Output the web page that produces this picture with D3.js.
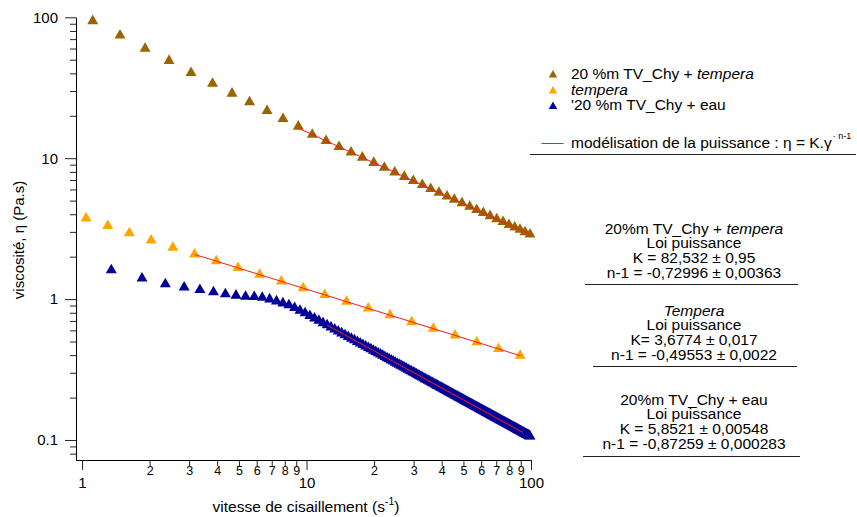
<!DOCTYPE html>
<html><head><meta charset="utf-8">
<script src="https://cdn.jsdelivr.net/npm/d3@7"></script>
<style>
body{margin:0;background:#fff}
text{font-family:"Liberation Sans",Arial,Helvetica,sans-serif;fill:#000}
</style>
</head><body>
<svg id="c" width="857" height="517"></svg>
<script>
// ---------- DATA ----------
const seriesNames = ["20 %m TV_Chy + ", "tempera", "'20 %m TV_Chy + eau"];
const seriesColors = ["#9a6400", "#ffa500", "#000096"];

// 20 %m TV_Chy + tempera
const brownX = [1.116,1.476,1.909,2.441,3.059,3.814,4.658,5.575,6.671,7.859,9.194,10.61,12.22,13.96,15.79,17.73,19.93,22.21,24.71,27.27,29.91,32.80,35.75,38.92,42.26,45.53,49.28,53.33,57.30,61.31,65.68,70.37,75.06,79.80,84.62,89.33,94.04,98.97];
const brownY = [94.2,74.6,60.0,49.2,40.4,33.8,28.8,25.0,21.7,19.0,16.8,14.72,13.28,12.04,11.01,10.12,9.29,8.58,7.94,7.39,6.91,6.46,6.07,5.70,5.37,5.08,4.80,4.53,4.30,4.09,3.89,3.70,3.53,3.37,3.23,3.11,2.99,2.88];

// tempera
const orangeX = [1.042,1.302,1.626,2.032,2.539,3.172,3.963,4.951,6.185,7.729,9.656,12.06,15.08,18.84,23.53,29.40,36.73,45.89,57.34,71.64,89.49];
const orangeY = [3.745,3.31,2.936,2.614,2.324,2.075,1.859,1.664,1.490,1.335,1.195,1.070,0.959,0.859,0.769,0.688,0.617,0.552,0.494,0.443,0.397];

// 20 %m TV_Chy + eau
const blueX = [1.35,1.85,2.35,2.85,3.35,3.85,4.35,4.85,5.35,5.85,6.35,6.85,7.35,7.85,8.35,8.85,9.35,9.85,
10.35,10.85,11.35,11.85,12.35,12.85,13.35,13.85,14.35,14.85,15.35,15.85,16.35,16.85,17.35,17.85,18.35,18.85,19.35,19.85,
20.35,20.85,21.35,21.85,22.35,22.85,23.35,23.85,24.35,24.85,25.35,25.85,26.35,26.85,27.35,27.85,28.35,28.85,29.35,29.85,
30.35,30.85,31.35,31.85,32.35,32.85,33.35,33.85,34.35,34.85,35.35,35.85,36.35,36.85,37.35,37.85,38.35,38.85,39.35,39.85,
40.35,40.85,41.35,41.85,42.35,42.85,43.35,43.85,44.35,44.85,45.35,45.85,46.35,46.85,47.35,47.85,48.35,48.85,49.35,49.85,
50.35,50.85,51.35,51.85,52.35,52.85,53.35,53.85,54.35,54.85,55.35,55.85,56.35,56.85,57.35,57.85,58.35,58.85,59.35,59.85,
60.35,60.85,61.35,61.85,62.35,62.85,63.35,63.85,64.35,64.85,65.35,65.85,66.35,66.85,67.35,67.85,68.35,68.85,69.35,69.85,
70.35,70.85,71.35,71.85,72.35,72.85,73.35,73.85,74.35,74.85,75.35,75.85,76.35,76.85,77.35,77.85,78.35,78.85,79.35,79.85,
80.35,80.85,81.35,81.85,82.35,82.85,83.35,83.85,84.35,84.85,85.35,85.85,86.35,86.85,87.35,87.85,88.35,88.85,89.35,89.85,
90.35,90.85,91.35,91.85,92.35,92.85,93.35,93.85,94.35,94.85,95.35,95.85,96.35,96.85,97.35,97.85,98.35,98.85];
const blueY = [1.609,1.405,1.280,1.212,1.164,1.123,1.087,1.061,1.043,1.037,1.026,0.998,0.966,0.935,0.905,0.868,0.830,0.7951,
0.7615,0.7308,0.7027,0.6767,0.6527,0.6305,0.6099,0.5906,0.5726,0.5557,0.5399,0.5250,0.5110,0.4977,0.4852,0.4733,0.4620,0.4513,0.4411,0.4315,
0.4222,0.4134,0.4049,0.3968,0.3891,0.3816,0.3745,0.3676,0.3610,0.3547,0.3486,0.3427,0.3370,0.3315,0.3262,0.3211,0.3161,0.3114,0.3067,0.3022,
0.2979,0.2936,0.2895,0.2856,0.2817,0.2780,0.2743,0.2708,0.2673,0.2640,0.2607,0.2576,0.2545,0.2514,0.2485,0.2456,0.2428,0.2401,0.2374,0.2348,
0.2323,0.2298,0.2274,0.2250,0.2227,0.2204,0.2182,0.2161,0.2139,0.2118,0.2098,0.2078,0.2058,0.2039,0.2020,0.2002,0.1984,0.1966,0.1949,0.1932,
0.1915,0.1899,0.1883,0.1867,0.1851,0.1836,0.1821,0.1806,0.1791,0.1777,0.1763,0.1749,0.1736,0.1722,0.1709,0.1696,0.1684,0.1671,0.1659,0.1647,
0.1635,0.1623,0.1612,0.1600,0.1589,0.1578,0.1567,0.1557,0.1546,0.1536,0.1525,0.1515,0.1505,0.1495,0.1486,0.1476,0.1467,0.1457,0.1448,0.1439,
0.1430,0.1422,0.1413,0.1404,0.1396,0.1387,0.1379,0.1371,0.1363,0.1355,0.1347,0.1339,0.1332,0.1324,0.1317,0.1309,0.1302,0.1295,0.1288,0.1281,
0.1274,0.1267,0.1260,0.1253,0.1247,0.1240,0.1234,0.1227,0.1221,0.1215,0.1208,0.1202,0.1196,0.1190,0.1184,0.1178,0.1173,0.1167,0.1161,0.1155,
0.1150,0.1144,0.1139,0.1133,0.1128,0.1123,0.1117,0.1112,0.1107,0.1102,0.1097,0.1092,0.1087,0.1082,0.1077,0.1073,0.1068,0.1063];

// power-law fits  eta = K * gamma^(n-1)
const fitK = [82.532, 3.6774, 5.8521];
const fitN1 = [-0.72996, -0.49553, -0.87259];
const fitFrom = [9.2, 3.17, 12.35];
const fitTo = [99, 89.5, 92];

// ticks
const xMajorTicks = [1, 10, 100];
const xMinorTicks = [2,3,4,5,6,7,8,9,20,30,40,50,60,70,80,90];
const yMajorTicks = [0.1, 1, 10, 100];
const yMajorLabels = ["0.1", "1", "10", "100"];
const yMinorTicks = [0.08,0.09,0.2,0.3,0.4,0.5,0.6,0.7,0.8,0.9,2,3,4,5,6,7,8,9,20,30,40,50,60,70,80,90];

// annotation blocks
const fitBlocks = [
  [["20%m TV_Chy + ", "tempera"], "Loi puissance", "K = 82,532 ± 0,95", "n-1 = -0,72996 ± 0,00363"],
  [["", "Tempera"], "Loi puissance", "K= 3,6774 ± 0,017", "n-1 = -0,49553 ± 0,0022"],
  [["20%m TV_Chy + eau", ""], "Loi puissance", "K = 5,8521 ± 0,00548", "n-1 = -0,87259 ± 0,000283"]
];

// ---------- DRAW ----------
const svg = d3.select("#c");
const FONT = '"Liberation Sans",Arial,Helvetica,sans-serif';
const x = d3.scaleLog().domain([0.94, 100]).range([76, 531]);
const y = d3.scaleLog().domain([0.0721, 100]).range([460, 17.3]);

function styleAxis(g, fs) {
  g.attr("font-family", FONT).attr("font-size", fs);
  g.selectAll("line").attr("stroke", "#222");
  g.select(".domain").attr("stroke", "#000");
  g.selectAll("text").attr("fill", "#000");
}

// Y axis
svg.append("g").attr("transform", "translate(76,0)")
  .call(d3.axisLeft(y).tickValues(yMinorTicks).tickSize(6).tickSizeOuter(0).tickFormat(""))
  .call(g => styleAxis(g, 15));
svg.append("g").attr("transform", "translate(76,0)")
  .call(d3.axisLeft(y).tickValues(yMajorTicks).tickSize(11).tickPadding(7).tickSizeOuter(0)
        .tickFormat((d, i) => yMajorLabels[i]))
  .call(g => styleAxis(g, 15));

// X axis
svg.append("g").attr("transform", "translate(0,460)")
  .call(d3.axisBottom(x).tickValues(xMinorTicks).tickSize(6).tickPadding(0.5).tickSizeOuter(0)
        .tickFormat(d => String(d < 10 ? d : d / 10)))
  .call(g => styleAxis(g, 12.5));
svg.append("g").attr("transform", "translate(0,460)")
  .call(d3.axisBottom(x).tickValues(xMajorTicks).tickSize(10).tickPadding(7.5).tickSizeOuter(0)
        .tickFormat(d => String(d)))
  .call(g => styleAxis(g, 15));

// axis titles
const xt = svg.append("text").attr("x", 306).attr("y", 512).attr("text-anchor", "middle")
  .attr("font-size", 15.5);
xt.append("tspan").text("vitesse de cisaillement (s");
xt.append("tspan").attr("font-size", 10.5).attr("dy", -7).text("-1");
xt.append("tspan").attr("dy", 7).text(")");

svg.append("text").attr("transform", "translate(24,240) rotate(-90)")
  .attr("text-anchor", "middle").attr("font-size", 15)
  .text("viscosité, η (Pa.s)");

// markers
function tri(w) {
  const h = w * Math.sqrt(3) / 2;
  return `M0,${-2 * h / 3}L${w / 2},${h / 3}L${-w / 2},${h / 3}Z`;
}
const series = [[brownX, brownY], [orangeX, orangeY], [blueX, blueY]];
series.forEach((s, i) => {
  svg.append("g").selectAll("path").data(s[0].map((d, j) => [d, s[1][j]]))
    .join("path")
    .attr("d", tri(11))
    .attr("transform", d => `translate(${x(d[0])},${y(d[1])})`)
    .attr("fill", seriesColors[i]);
});

// fit lines
const line = d3.line().x(d => x(d[0])).y(d => y(d[1]));
fitK.forEach((K, i) => {
  const pts = [fitFrom[i], fitTo[i]].map(g => [g, K * Math.pow(g, fitN1[i])]);
  svg.append("path").attr("d", line(pts)).attr("fill", "none")
    .attr("stroke", "#ff1a1a").attr("stroke-width", 1);
});

// legend
const legY = [78.5, 94.5, 110];
const legTriY = [74, 90, 105.5];
seriesNames.forEach((n, i) => {
  svg.append("path").attr("d", tri(8.5))
    .attr("transform", `translate(553,${legTriY[i] + 1})`).attr("fill", seriesColors[i]);
  const t = svg.append("text").attr("x", 571).attr("y", legY[i]).attr("font-size", 15.5);
  if (i === 0) {
    t.append("tspan").text(n);
    t.append("tspan").attr("font-style", "italic").text("tempera");
  } else if (i === 1) {
    t.append("tspan").attr("font-style", "italic").text(n);
  } else {
    t.text(n);
  }
});
svg.append("line").attr("x1", 541.5).attr("x2", 563.5).attr("y1", 143.5).attr("y2", 143.5)
  .attr("stroke", "#ff1a1a").attr("stroke-width", 1);
const mt = svg.append("text").attr("x", 571).attr("y", 147.5).attr("font-size", 15.5);
mt.append("tspan").text("modélisation de la puissance : η = K.γ");
mt.append("tspan").attr("font-size", 9).attr("dy", -9).attr("dx", 1).text("· n-1");
svg.append("line").attr("x1", 530).attr("x2", 856).attr("y1", 154.5).attr("y2", 154.5)
  .attr("stroke", "#222").attr("stroke-width", 1);

// annotation blocks
const blockBase = [233.5, 315.5, 404.5];
const blockRule = [[585, 798, 284.5], [593, 797, 366.5], [583, 800, 456.5]];
fitBlocks.forEach((b, i) => {
  const g = svg.append("g").attr("font-size", 15.5).attr("text-anchor", "middle");
  const t0 = g.append("text").attr("x", 694).attr("y", blockBase[i]);
  if (b[0][0]) t0.append("tspan").text(b[0][0]);
  if (b[0][1]) t0.append("tspan").attr("font-style", "italic").text(b[0][1]);
  for (let k = 1; k < 4; k++) {
    g.append("text").attr("x", 694).attr("y", blockBase[i] + 14.9 * k).text(b[k]);
  }
  svg.append("line").attr("x1", blockRule[i][0]).attr("x2", blockRule[i][1])
    .attr("y1", blockRule[i][2]).attr("y2", blockRule[i][2])
    .attr("stroke", "#222").attr("stroke-width", 1);
});
</script>
</body></html>
